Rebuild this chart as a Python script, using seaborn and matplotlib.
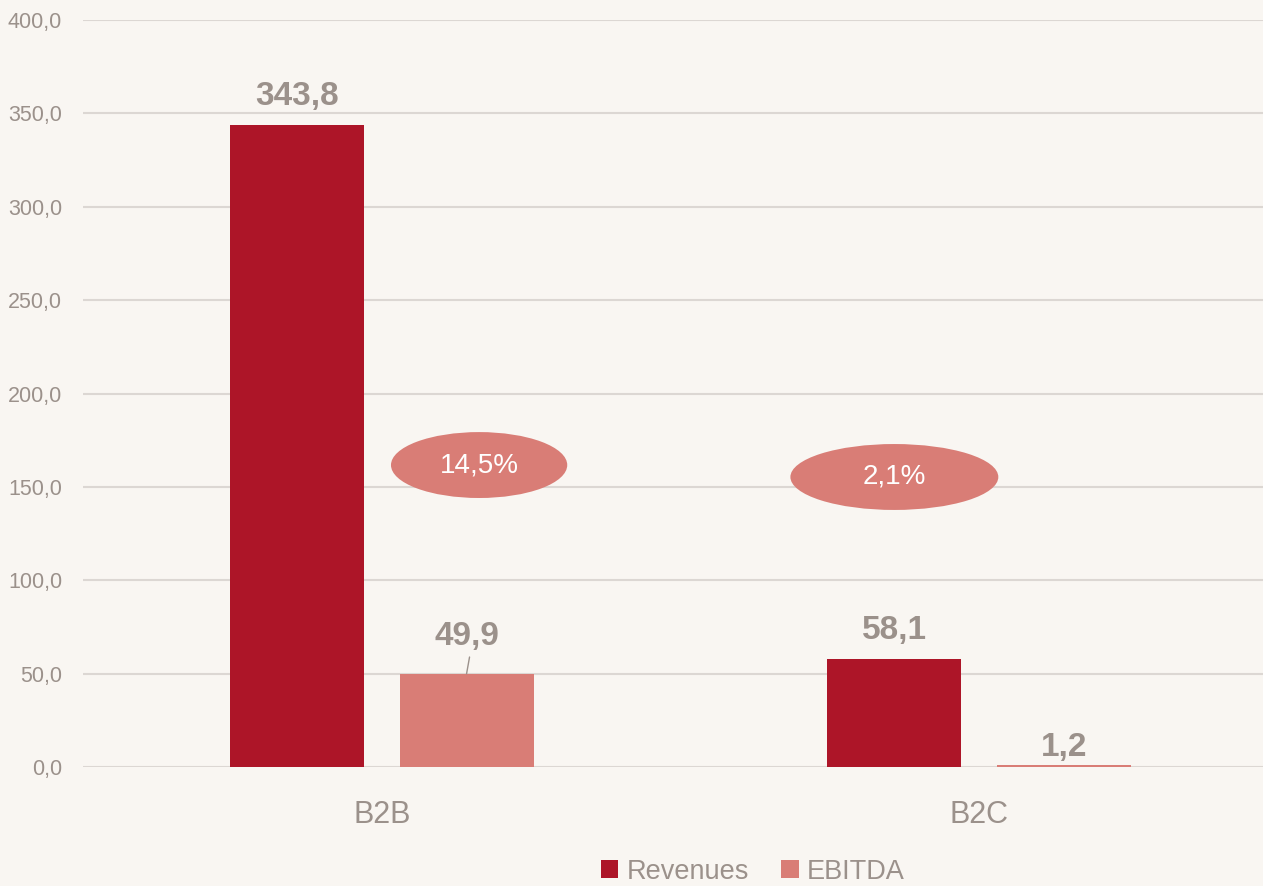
import matplotlib
matplotlib.use("Agg")
import matplotlib.pyplot as plt
from matplotlib.patches import Ellipse
from matplotlib.ticker import FuncFormatter, MultipleLocator
import seaborn as sns
import pandas as pd

# Segment figures (EUR m)
segments = ["B2B", "B2C"]
metrics = ["Revenues", "EBITDA"]
revenues = [343.8, 58.1]
ebitda = [49.9, 1.2]
margins = ["14,5%", "2,1%"]

BG = "#f9f6f2"
TXT = "#9b918b"
GRID = "#dcd7d3"
RED = "#ad1528"
PINK = "#d97d76"

sns.set_theme(style="white")
plt.rcParams["font.family"] = ["Liberation Sans Narrow", "Liberation Sans", "DejaVu Sans"]

df = pd.DataFrame({
    "segment": segments * 2,
    "metric": [metrics[0]] * len(segments) + [metrics[1]] * len(segments),
    "value": revenues + ebitda,
})

fig = plt.figure(figsize=(12.63, 8.86), dpi=100, facecolor=BG)
ax = fig.add_axes([0.0657, 0.1343, 0.9343, 0.8431], facecolor=BG)

sns.barplot(data=df, x="segment", y="value", hue="metric", order=segments,
            hue_order=metrics, palette=[RED, PINK], width=0.568, gap=0.211,
            ax=ax, legend=True, saturation=1, linewidth=0)

ax.set_ylim(0, 400)
ax.set_xlim(-0.5, 1.475)
ax.yaxis.set_major_locator(MultipleLocator(50))
ax.yaxis.set_major_formatter(FuncFormatter(lambda v, p: f"{v:.1f}".replace(".", ",")))
ax.grid(axis="y", color=GRID, linewidth=1.5)
ax.set_axisbelow(True)
for s in ax.spines.values():
    s.set_visible(False)
ax.tick_params(axis="y", length=0, pad=15, labelsize=15.5, labelcolor=TXT)
ax.tick_params(axis="x", length=0, pad=24, labelsize=22, labelcolor=TXT)
ax.set_xlabel("")
ax.set_ylabel("")

# Value labels above each bar (offsets in points, per series and segment)
label_offsets = [[9, 9], [0, 1]]
for cont, offs in zip(ax.containers, label_offsets):
    for bar, val, off in zip(cont, cont.datavalues, offs):
        cx = bar.get_x() + bar.get_width() / 2
        lab = f"{val:.1f}".replace(".", ",")
        if abs(val - 49.9) < 1e-6:
            # label lifted off the bar with a short leader line
            ax.plot([cx + 0.005, cx], [val + 9, val], color=TXT, lw=1, zorder=4)
            ax.text(cx, val + 20, lab, ha="center", va="center", fontsize=24,
                    fontweight="bold", color=TXT)
        else:
            ax.annotate(lab, xy=(cx, val), xytext=(0, off), textcoords="offset points",
                        ha="center", va="bottom", fontsize=24, fontweight="bold",
                        color=TXT)

# EBITDA margin bubbles
bubbles = [(0.163, 161.7, 0.295), (0.858, 155.3, 0.348)]
for (bx, by, bw), m in zip(bubbles, margins):
    ax.add_patch(Ellipse((bx, by), bw, 35.3, facecolor=PINK, edgecolor="none", zorder=3))
    ax.text(bx, by, m, ha="center", va="center", fontsize=20, color="white", zorder=4)

h, l = ax.get_legend_handles_labels()
ax.get_legend().remove()
fig.legend(h, l, loc="lower center", bbox_to_anchor=(0.596, -0.026), ncol=2,
           frameon=False, fontsize=19.5, labelcolor=TXT, handlelength=0.65,
           handleheight=0.65, handletextpad=0.3, columnspacing=1.2)

fig.savefig("out.png", dpi=100, facecolor=BG)
